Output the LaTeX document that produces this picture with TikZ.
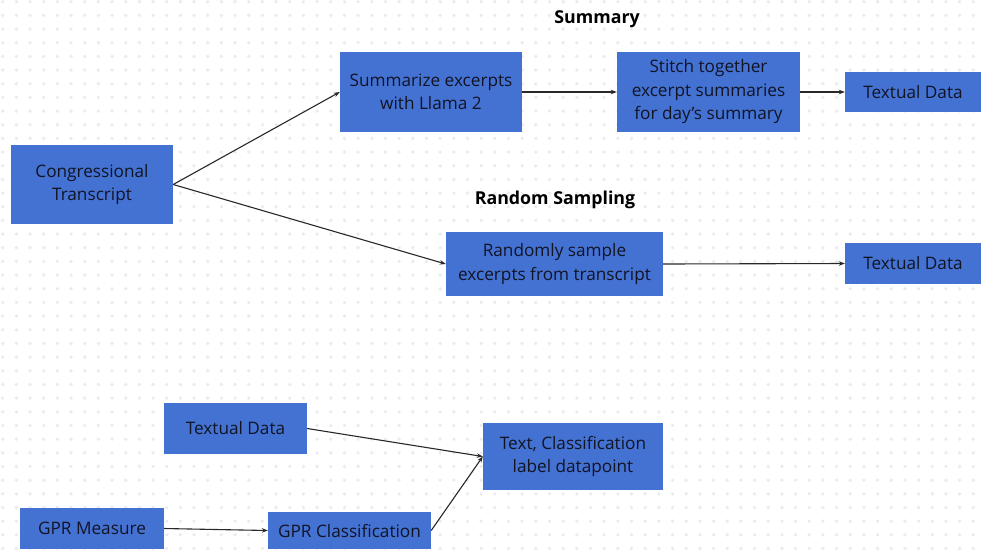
\documentclass[tikz,border=0pt]{standalone}
\usepackage{fontspec}
\setmainfont{Open Sans}
\usetikzlibrary{arrows.meta}
\definecolor{boxblue}{RGB}{67,114,211}
\definecolor{boxtext}{RGB}{18,20,36}
\definecolor{dotgray}{RGB}{234,236,241}
\definecolor{linegray}{RGB}{40,40,40}
\tikzset{
  bluebox/.style={fill=boxblue, draw=none, inner sep=0pt, align=center,
    text=boxtext, font=\fontsize{17.2}{23.5}\selectfont},
  heading/.style={font=\fontsize{17.8}{20}\selectfont\bfseries, text=black, inner sep=0pt},
  conn/.style={draw=linegray, line width=1.1pt, -{Stealth[length=6pt,width=4.5pt]}}
}
\begin{document}
\begin{tikzpicture}[x=1pt,y=-1pt]
\useasboundingbox (0,0) rectangle (981,550);
\fill[white] (0,0) rectangle (981,550);
\foreach \i in {0,...,71}{
  \foreach \j in {0,...,40}{
    \fill[dotgray] (2.7+13.67*\i, 1.7+13.67*\j) circle (1.9);
  }
}
% boxes (center, width, height)
\node[bluebox, minimum width=162pt, minimum height=79pt] (cong) at (92,184.5) {Congressional\\Transcript};
\node[bluebox, minimum width=182pt, minimum height=80pt] (summ) at (431,92) {Summarize excerpts\\with Llama 2};
\node[bluebox, minimum width=183pt, minimum height=80pt] (stitch) at (708.5,92) {Stitch together\\excerpt summaries\\for day’s summary};
\node[bluebox, minimum width=136pt, minimum height=40pt] (td1) at (913,92) {Textual Data};
\node[bluebox, minimum width=217pt, minimum height=64pt] (rand) at (554.5,264) {Randomly sample\\excerpts from transcript};
\node[bluebox, minimum width=136pt, minimum height=41pt] (td2) at (913,263.5) {Textual Data};
\node[bluebox, minimum width=143pt, minimum height=51pt] (td3) at (235.5,428.5) {Textual Data};
\node[bluebox, minimum width=180pt, minimum height=67pt] (tc) at (573,456.5) {Text, Classification\\label datapoint};
\node[bluebox, minimum width=144pt, minimum height=41pt] (gprm) at (92,528.5) {GPR Measure};
\node[bluebox, minimum width=163pt, minimum height=37pt] (gprc) at (349.5,530.5) {GPR Classification};
% headings
\node[heading] (h1) at (597,19) {Summary};
\node[heading] (h2) at (555,200) {Random Sampling};
% connectors
\draw[conn] (cong.east) -- (summ.west);
\draw[conn] (cong.east) -- (rand.west);
\draw[conn] (summ.east) -- (stitch.west);
\draw[conn] (stitch.east) -- (td1.west);
\draw[conn] (rand.east) -- (td2.west);
\draw[conn] (td3.east) -- (tc.west);
\draw[conn] (gprc.east) -- (tc.west);
\draw[conn] (gprm.east) -- (gprc.west);
\end{tikzpicture}
\end{document}
